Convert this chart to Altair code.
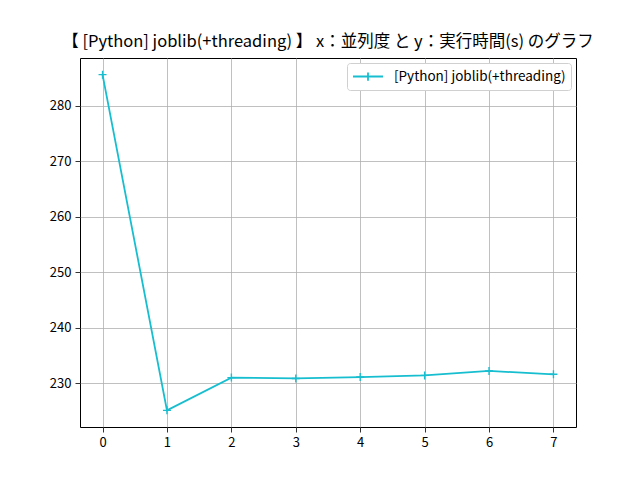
import altair as alt
import pandas as pd

parallelism = [0, 1, 2, 3, 4, 5, 6, 7]
exec_time = [285.6, 225.1, 231.0, 230.85, 231.1, 231.4, 232.2, 231.6]
series_name = "[Python] joblib(+threading)"

df = pd.DataFrame({"x": parallelism, "y": exec_time, "series": [series_name] * len(parallelism)})

FONT = "Noto Sans CJK JP"
COLOR = "#17becf"
PLUS = "M-1,0L1,0M0,-1L0,1"

base = alt.Chart(df).encode(
    x=alt.X("x:Q", scale=alt.Scale(domain=[-0.35, 7.35], nice=False, zero=False),
            axis=alt.Axis(values=parallelism, title=None, format="d")),
    y=alt.Y("y:Q", scale=alt.Scale(domain=[222.1, 288.6], nice=False, zero=False),
            axis=alt.Axis(values=[230, 240, 250, 260, 270, 280], title=None)),
)

line = base.mark_line(strokeWidth=1.8).encode(
    color=alt.Color("series:N", scale=alt.Scale(range=[COLOR]),
                    legend=alt.Legend(title=None, orient="top-right", offset=5,
                                      symbolType="M-1,0L3,0M1,-0.55L1,0.55",
                                      symbolSize=225, symbolStrokeWidth=1.8,
                                      symbolFillColor="transparent",
                                      fillColor="white", strokeColor="#d0d0d0",
                                      cornerRadius=3, padding=5, labelFontSize=13.5,
                                      labelLimit=400,
                                      labelFont=FONT, labelColor="black", labelOffset=25))
)
points = base.mark_point(shape=PLUS, size=64, filled=False, strokeWidth=1.4, color=COLOR, opacity=1)

chart = (line + points).properties(
    width=496, height=369,
    title=alt.TitleParams("【 [Python] joblib(+threading) 】 x：並列度 と y：実行時間(s) のグラフ",
                          font=FONT, fontSize=16.5, fontWeight="normal", color="black",
                          anchor="middle", offset=8),
    autosize=alt.AutoSizeParams(type="none"),
    padding={"left": 80, "top": 58, "right": 64, "bottom": 53},
).configure_view(stroke="black", strokeWidth=1).configure_axis(
    grid=True, gridColor="#b0b0b0", gridWidth=0.8, domain=False,
    tickColor="black", tickSize=5, tickWidth=0.8,
    labelFont=FONT, labelFontSize=13, labelColor="black", labelPadding=4,
)

chart.save("out.html", embed_options={"renderer": "svg", "actions": False})
